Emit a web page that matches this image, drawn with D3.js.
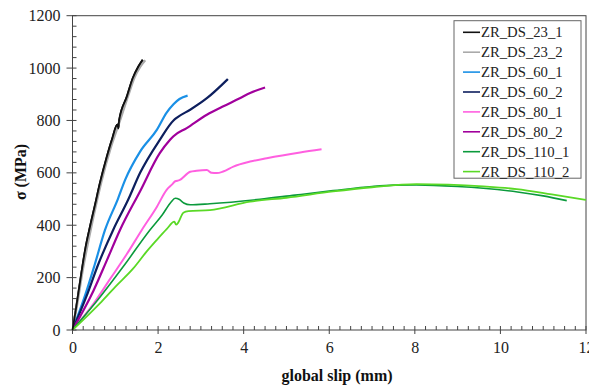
<!DOCTYPE html>
<html><head><meta charset="utf-8">
<script src="https://cdn.jsdelivr.net/npm/d3@7"></script>
<style>body{margin:0;background:#fff}svg{display:block}</style>
</head><body><svg id="c" width="589" height="386"></svg>
<script>
const xTicks=[0,2,4,6,8,10,12];
const yTicks=[0,200,400,600,800,1000,1200];
const seriesNames=["ZR_DS_23_1","ZR_DS_23_2","ZR_DS_60_1","ZR_DS_60_2","ZR_DS_80_1","ZR_DS_80_2","ZR_DS_110_1","ZR_DS_110_2"];
const seriesColors=["#111111","#aaaaaa","#1a90e6","#0d1f5e","#ff5fe0","#a1009c","#0b9a3c","#5ad926"];
const s23_1=[[0,0],[0.08,80],[0.21,220],[0.3,310],[0.41,395],[0.53,480],[0.64,560],[0.8,660],[0.92,726],[1.05,785],[1.07,770],[1.09,800],[1.27,891],[1.41,962],[1.54,1006],[1.64,1032]];
const s23_2=[[0,0],[0.1,90],[0.24,230],[0.44,395],[0.68,570],[0.9,700],[1.12,805],[1.3,895],[1.45,965],[1.58,1005],[1.7,1030]];
const s60_1=[[0,0],[0.29,130],[0.52,250],[0.76,382],[1.06,500],[1.23,573],[1.58,681],[1.97,764],[2.2,830],[2.36,862],[2.5,882],[2.69,895]];
const s60_2=[[0,0],[0.33,130],[0.6,250],[0.95,382],[1.3,497],[1.58,600],[2.04,726],[2.36,800],[2.45,812],[2.75,841],[3.14,885],[3.63,958]];
const s80_2=[[0,0],[0.49,150],[0.8,265],[1.11,382],[1.58,530],[2.04,675],[2.28,726],[2.36,740],[2.67,771],[3.14,822],[3.5,852],[3.91,885],[4.15,905],[4.5,926]];
const s80_1=[[0,0],[0.49,100],[0.88,195],[1.27,290],[1.62,382],[1.97,470],[2.2,535],[2.33,556],[2.4,568],[2.5,572],[2.75,604],[2.9,608],[3.14,611],[3.25,600],[3.37,599],[3.52,605],[3.76,624],[4.15,643],[4.54,656],[5.32,678],[5.82,690]];
const s110_1=[[0,0],[0.64,125],[1.2,245],[1.81,382],[2.1,440],[2.3,488],[2.4,503],[2.5,498],[2.6,485],[2.75,478],[3.21,482],[4.38,499],[5.2,515],[6.09,532],[7,548],[7.5,553],[8.04,554],[9,548],[9.6,541],[10.4,527],[11,512],[11.55,494]];
const s110_2=[[0,0],[0.64,102],[1.0,165],[1.42,235],[1.73,299],[1.97,344],[2.2,385],[2.38,414],[2.42,402],[2.47,410],[2.59,448],[2.71,454],[3.21,458],[4.15,490],[5,505],[6.09,529],[7,545],[8.04,557],[9.6,548],[10.38,538],[11.2,518],[12,497]];
const seriesData=[s23_1,s23_2,s60_1,s60_2,s80_1,s80_2,s110_1,s110_2];
const seriesWidths=[2,2.4,2.2,2.2,2,2.2,1.6,1.8];

const svg=d3.select("#c");
const L=72.5,R=586,T=15.7,B=330;
const x=d3.scaleLinear().domain([0,12]).range([L,R]);
const y=d3.scaleLinear().domain([0,1200]).range([B,T]);
const font="'Liberation Serif','Times New Roman',serif";

svg.append("rect").attr("x",L).attr("y",T).attr("width",R-L).attr("height",B-T)
  .attr("fill","none").attr("stroke","#444").attr("stroke-width",1);

const g=svg.append("g").attr("stroke","#444").attr("stroke-width",1);
d3.range(0,1200.1,40).forEach(v=>{
  const major=v%200===0;
  g.append("line").attr("x1",major?L-6:L).attr("x2",L+4).attr("y1",y(v)).attr("y2",y(v));
});
d3.range(0,12.01,0.25).forEach(v=>{
  const major=Math.abs(v%2)<1e-6;
  g.append("line").attr("x1",x(v)).attr("x2",x(v)).attr("y1",major?B+4:B).attr("y2",B-4);
});

const yAxis=d3.axisLeft(y).tickValues(yTicks).tickFormat(d3.format("d")).tickSize(0).tickPadding(12);
const ya=svg.append("g").attr("transform",`translate(${L},0)`).call(yAxis);
ya.attr("font-family",null).attr("font-size",null);
ya.select(".domain").remove();
ya.selectAll("text").style("font-family",font).style("font-size","16px").attr("fill","#222");
const xAxis=d3.axisBottom(x).tickValues(xTicks).tickFormat(d3.format("d")).tickSize(0).tickPadding(12);
const xa=svg.append("g").attr("transform",`translate(0,${B})`).call(xAxis);
xa.attr("font-family",null).attr("font-size",null);
xa.select(".domain").remove();
xa.selectAll("text").style("font-family",font).style("font-size","16px").attr("fill","#222");

svg.append("text").attr("x",337).attr("y",381).attr("text-anchor","middle")
  .style("font-family",font).style("font-size","16px").attr("font-weight","bold").attr("fill","#111").text("global slip (mm)");
svg.append("text").attr("transform","translate(26,172) rotate(-90)").attr("text-anchor","middle")
  .style("font-family",font).style("font-size","16px").attr("font-weight","bold").attr("fill","#111").text("σ (MPa)");

const line=d3.line().x(d=>x(d[0])).y(d=>y(d[1])).curve(d3.curveMonotoneX);
svg.append("clipPath").attr("id","pc").append("rect").attr("x",L).attr("y",T).attr("width",R-L).attr("height",B-T);
seriesData.forEach((d,i)=>{
  svg.append("path").datum(d).attr("d",line).attr("fill","none")
    .attr("stroke",seriesColors[i]).attr("stroke-width",seriesWidths[i])
    .attr("stroke-linejoin","round").attr("clip-path","url(#pc)");
});
svg.append("path").datum(s23_1).attr("d",line).attr("fill","none").attr("stroke",seriesColors[0]).attr("stroke-width",1.8).attr("stroke-linejoin","round");

const lg=svg.append("g");
lg.append("rect").attr("x",454).attr("y",20.7).attr("width",127).attr("height",157.5)
  .attr("fill","#fff").attr("stroke","#666").attr("stroke-width",1);
seriesNames.forEach((n,i)=>{
  const cy=32.3+i*19.9;
  lg.append("line").attr("x1",463).attr("x2",480).attr("y1",cy).attr("y2",cy)
    .attr("stroke",seriesColors[i]).attr("stroke-width",1.6);
  lg.append("text").attr("x",481).attr("y",cy+5).style("font-family",font).style("font-size","14.7px")
    .attr("fill","#222").text(n);
});
</script></body></html>
